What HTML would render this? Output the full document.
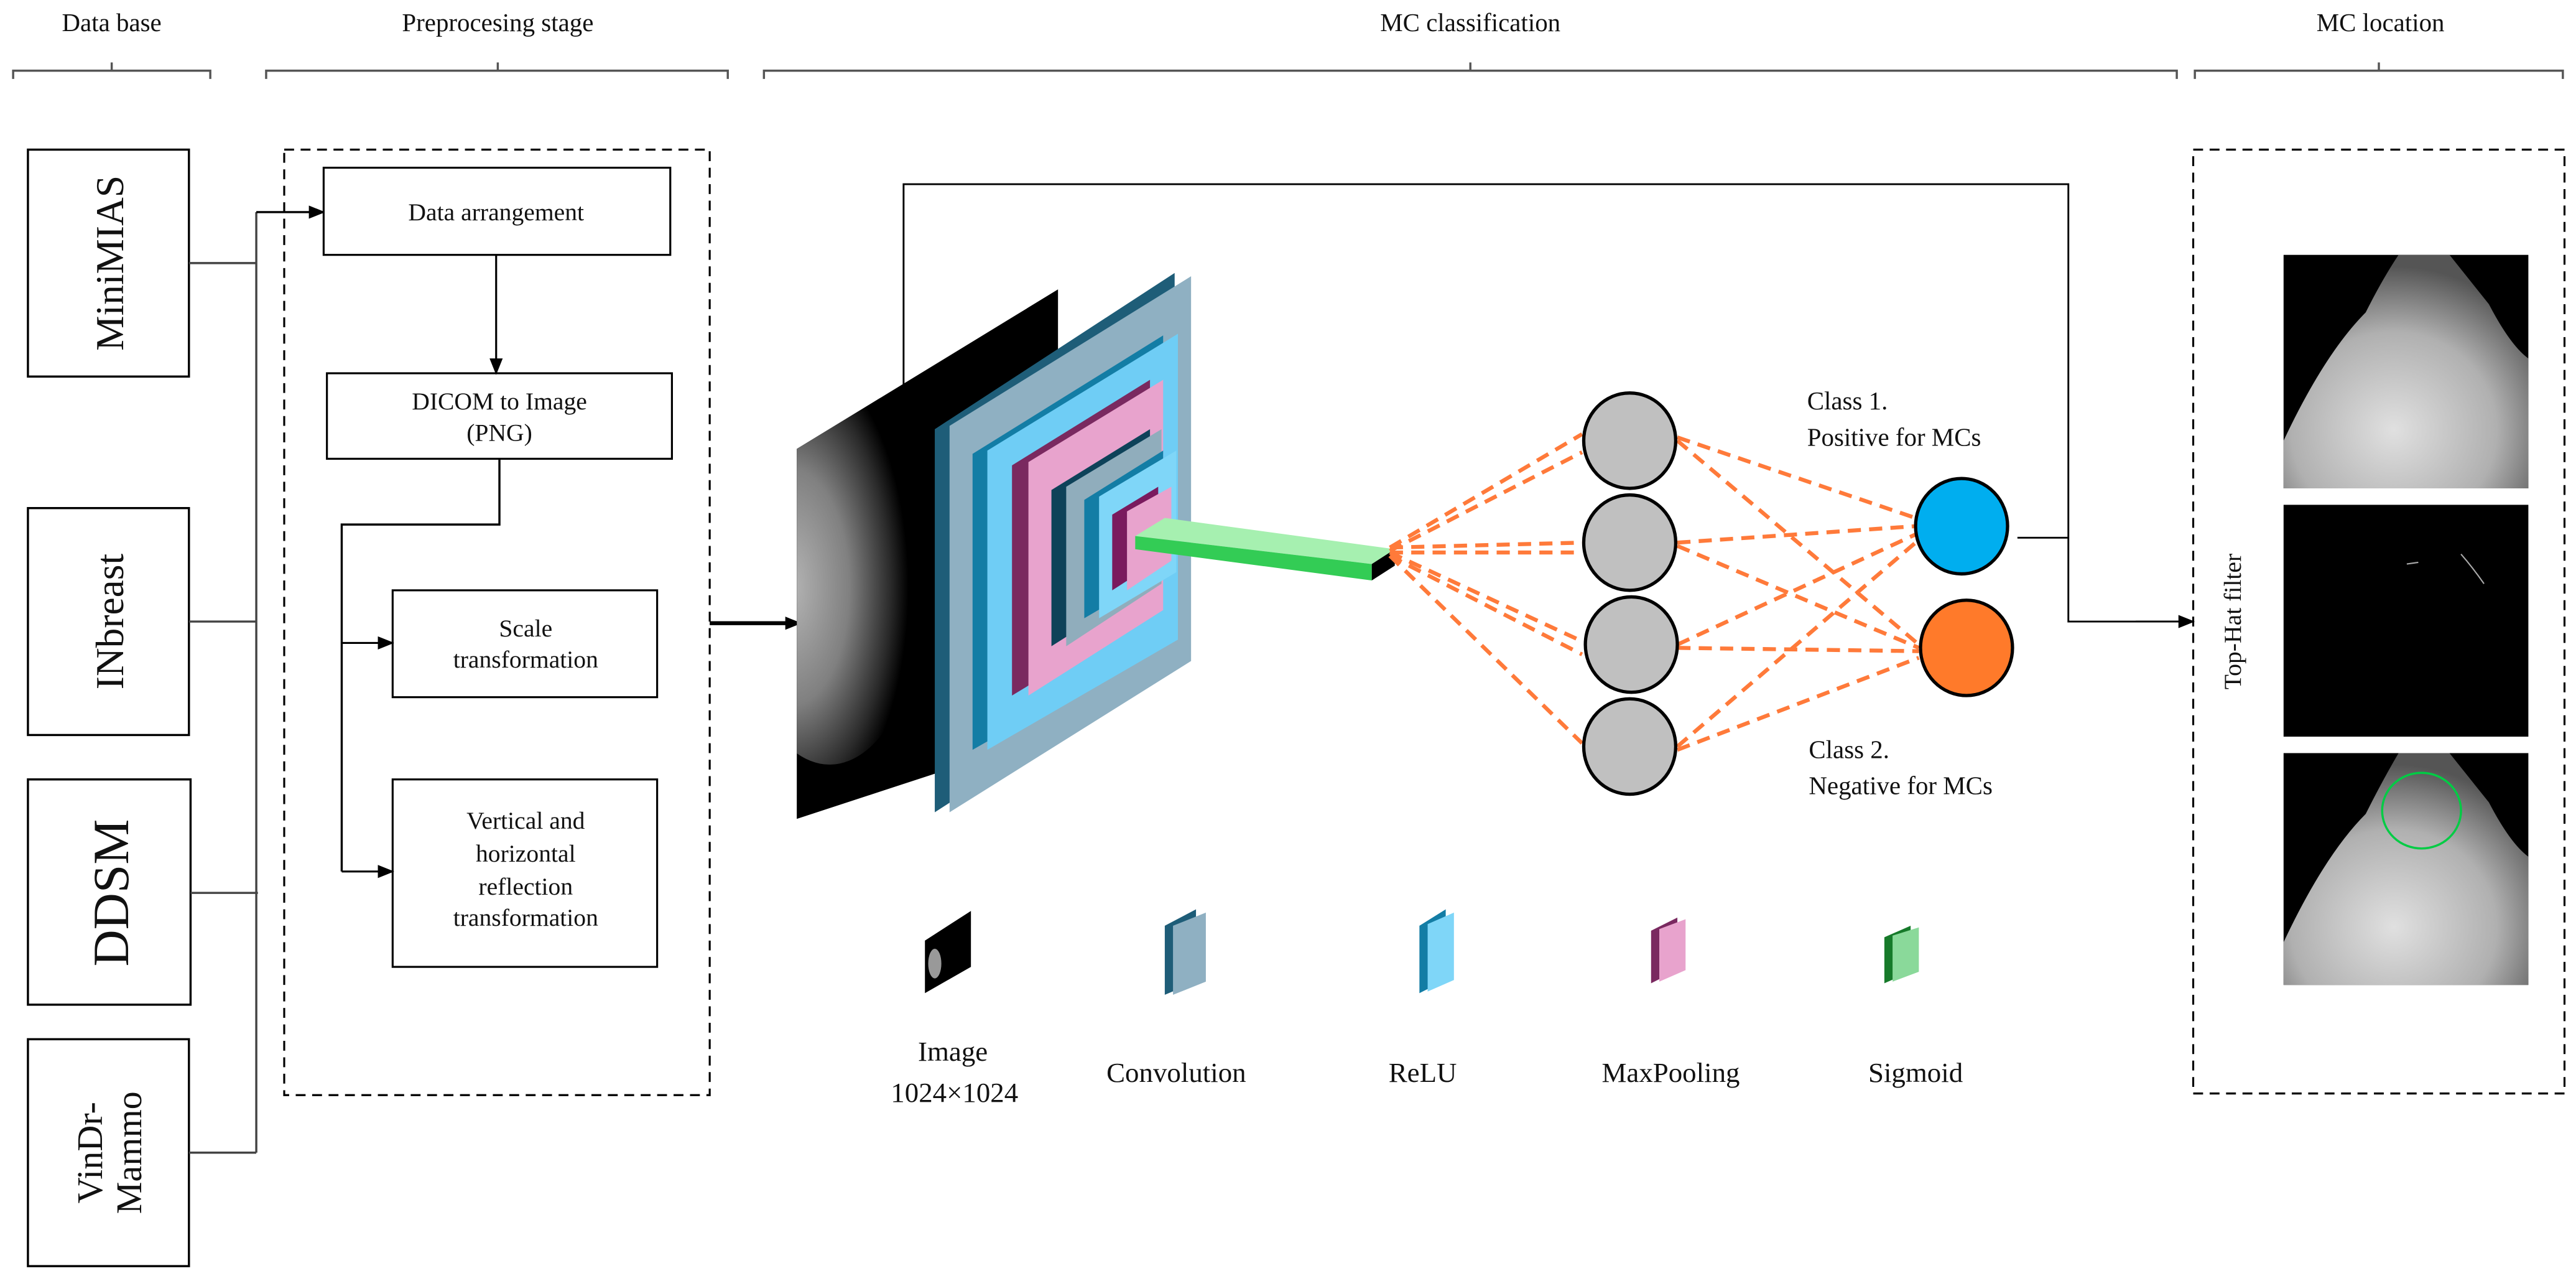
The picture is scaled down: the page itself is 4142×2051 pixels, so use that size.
<!DOCTYPE html>
<html><head><meta charset="utf-8"><style>
html,body{margin:0;padding:0;background:#fff;}
svg{display:block;}
text{font-family:"Liberation Serif",serif;fill:#111;}
</style></head><body>
<svg width="4142" height="2051" viewBox="0 0 1568 776" preserveAspectRatio="none" xmlns="http://www.w3.org/2000/svg">
<defs>
<marker id="ar" markerWidth="10" markerHeight="8" refX="9" refY="4" orient="auto" markerUnits="userSpaceOnUse"><path d="M0,0 L10,4 L0,8 z" fill="#000"/></marker>
<radialGradient id="mam" cx="0.3" cy="0.55" r="0.6"><stop offset="0" stop-color="#b5b5b5"/><stop offset="0.5" stop-color="#808080"/><stop offset="0.85" stop-color="#2a2a2a"/><stop offset="1" stop-color="#000"/></radialGradient>
<radialGradient id="mt" cx="0.45" cy="0.75" r="0.7"><stop offset="0" stop-color="#e0e0e0"/><stop offset="0.6" stop-color="#b0b0b0"/><stop offset="1" stop-color="#555"/></radialGradient>
<clipPath id="cm"><polygon points="485,273 644,176 644,446 485,498"/></clipPath>
</defs>

<g font-size="15.5" text-anchor="middle">
<text x="68" y="19">Data base</text>
<text x="303" y="19">Preprocesing stage</text>
<text x="895" y="19">MC classification</text>
<text x="1449" y="19">MC location</text>
</g>
<g stroke="#555" stroke-width="1.3" fill="none">
<path d="M8,48 V43 H128 V48 M68,43 V38"/>
<path d="M162,48 V43 H443 V48 M303,43 V38"/>
<path d="M465,48 V43 H1325 V48 M895,43 V38"/>
<path d="M1336,48 V43 H1560 V48 M1448,43 V38"/>
</g>

<g fill="#fff" stroke="#000" stroke-width="1.3">
<rect x="17" y="91" width="98" height="138"/>
<rect x="17" y="309" width="98" height="138"/>
<rect x="17" y="474" width="99" height="137"/>
<rect x="17" y="632" width="98" height="138"/>
</g>
<text transform="translate(75,160) rotate(-90)" font-size="24" text-anchor="middle">MiniMIAS</text>
<text transform="translate(75,378) rotate(-90)" font-size="24" text-anchor="middle">INbreast</text>
<text transform="translate(78,543) rotate(-90)" font-size="31" text-anchor="middle">DDSM</text>
<text transform="translate(62,701) rotate(-90)" font-size="22" text-anchor="middle">VinDr-</text>
<text transform="translate(86,701) rotate(-90)" font-size="22" text-anchor="middle">Mammo</text>
<g stroke="#444" stroke-width="1.3" fill="none">
<path d="M115,160 H156 M115,378 H156 M116,543 H157 M115,701 H156 M156,129 V701"/>
</g>
<line x1="156" y1="129" x2="197" y2="129" stroke="#000" stroke-width="1.3" marker-end="url(#ar)"/>

<rect x="173" y="91" width="259" height="575" fill="none" stroke="#000" stroke-width="1.2" stroke-dasharray="6,4"/>
<g fill="#fff" stroke="#000" stroke-width="1.2">
<rect x="197" y="102" width="211" height="53"/>
<rect x="199" y="227" width="210" height="52"/>
<rect x="239" y="359" width="161" height="65"/>
<rect x="239" y="474" width="161" height="114"/>
</g>
<g font-size="15" text-anchor="middle">
<text x="302" y="134">Data arrangement</text>
<text x="304" y="249">DICOM to Image</text>
<text x="304" y="268">(PNG)</text>
<text x="320" y="387">Scale</text>
<text x="320" y="406">transformation</text>
<text x="320" y="504">Vertical and</text>
<text x="320" y="524">horizontal</text>
<text x="320" y="544">reflection</text>
<text x="320" y="563">transformation</text>
</g>
<line x1="302" y1="155" x2="302" y2="227" stroke="#000" stroke-width="1.2" marker-end="url(#ar)"/>
<path d="M304,279 V319 H208 V530" fill="none" stroke="#000" stroke-width="1.3"/>
<line x1="208" y1="391" x2="239" y2="391" stroke="#000" stroke-width="1.2" marker-end="url(#ar)"/>
<line x1="208" y1="530" x2="239" y2="530" stroke="#000" stroke-width="1.2" marker-end="url(#ar)"/>
<line x1="432" y1="379" x2="487" y2="379" stroke="#000" stroke-width="2.4" marker-end="url(#ar)"/>

<path d="M550,300 V112 H1259 V378 H1335" fill="none" stroke="#000" stroke-width="1.1"/>
<line x1="1300" y1="378" x2="1335" y2="378" stroke="#000" stroke-width="1.1" marker-end="url(#ar)"/>
<line x1="1228" y1="327" x2="1259" y2="327" stroke="#000" stroke-width="1.1"/>

<polygon points="485,273 644,176 644,446 485,498" fill="#000"/>
<g clip-path="url(#cm)"><ellipse cx="505" cy="345" rx="60" ry="120" fill="url(#mam)"/></g>

<polygon points="569,261 715,166 715,400 569,494" fill="#1e5d78"/>
<polygon points="578,259 725,168 725,402 578,494" fill="#8fb0c2"/>
<polygon points="592,276 708,204 708,390 592,456" fill="#137da5"/>
<polygon points="601,274 717,203 717,389 601,456" fill="#6fcdf5"/>
<polygon points="616,283 700,231 700,372 616,423" fill="#7a2960"/>
<polygon points="626,281 708,231 708,371 626,423" fill="#e8a3cd"/>
<polygon points="640,298 700,261 700,355 640,393" fill="#0e4259"/>
<polygon points="649,296 707,261 707,355 649,393" fill="#90adbc"/>
<polygon points="660,304 708,274 708,348 660,376" fill="#137da5"/>
<polygon points="669,302 716,274 716,348 669,376" fill="#7fd6f8"/>
<polygon points="677,313 705,296 705,341 677,359" fill="#7a1a5e"/>
<polygon points="686,311 713,296 713,341 686,359" fill="#e8a3cd"/>

<polygon points="691,326 709,315 849,334 835,343" fill="#a6f0b0"/>
<polygon points="691,326 835,343 835,353 691,334" fill="#33cc55"/>
<polygon points="835,343 849,334 849,344 835,353" fill="#000"/>

<g stroke="#ff7a3a" stroke-width="2.4" stroke-dasharray="8,5" fill="none">
<path d="M846,333 L963,264 M846,335 L963,275 M846,333 L963,330 M846,336 L963,336 M846,336 L963,390 M846,338 L963,398 M846,338 L963,452"/>
<path d="M1021,266 L1166,315 M1021,268 L1168,392 M1021,330 L1166,320 M1021,332 L1168,394 M1021,392 L1166,325 M1021,394 L1168,396 M1021,454 L1166,330 M1021,456 L1168,400"/>
</g>
<g stroke="#000" stroke-width="2" fill="#c0c0c0">
<ellipse cx="992" cy="268" rx="28" ry="29"/>
<ellipse cx="992" cy="330" rx="28" ry="29"/>
<ellipse cx="993" cy="392" rx="28" ry="29"/>
<ellipse cx="992" cy="454" rx="28" ry="29"/>
<ellipse cx="1194" cy="320" rx="28" ry="29" fill="#00aeef"/>
<ellipse cx="1197" cy="394" rx="28" ry="29" fill="#ff7a2a"/>
</g>
<g font-size="15.5">
<text x="1100" y="249">Class 1.</text>
<text x="1100" y="271">Positive for MCs</text>
<text x="1101" y="461">Class 2.</text>
<text x="1101" y="483">Negative for MCs</text>
</g>

<polygon points="563,572 591,554 591,588 563,604" fill="#000"/>
<ellipse cx="569" cy="586" rx="4" ry="9" fill="#999"/>
<polygon points="709,563 728,553 728,597 709,605" fill="#1e5d78"/><polygon points="714,563 734,555 734,597 714,605" fill="#8fb0c2"/>
<polygon points="864,563 880,553 880,596 864,604" fill="#137da5"/><polygon points="869,562 885,555 885,596 869,603" fill="#7fd6f8"/>
<polygon points="1005,566 1021,558 1021,590 1005,598" fill="#7a2960"/><polygon points="1010,565 1026,559 1026,590 1010,597" fill="#e8a3cd"/>
<polygon points="1147,570 1163,563 1163,591 1147,598" fill="#167a2a"/><polygon points="1152,569 1168,564 1168,591 1152,597" fill="#8ad99a"/>
<g font-size="17" text-anchor="middle">
<text x="580" y="645">Image</text>
<text x="581" y="670">1024×1024</text>
<text x="716" y="658">Convolution</text>
<text x="866" y="658">ReLU</text>
<text x="1017" y="658">MaxPooling</text>
<text x="1166" y="658">Sigmoid</text>
</g>

<rect x="1335" y="91" width="226" height="574" fill="none" stroke="#000" stroke-width="1.2" stroke-dasharray="6,4"/>
<text transform="translate(1364,378) rotate(-90)" font-size="15" text-anchor="middle">Top-Hat filter</text>
<rect x="1390" y="155" width="149" height="142" fill="#000"/>
<path d="M1390,268 Q1415,215 1440,190 Q1450,170 1460,155 H1491 L1515,185 Q1528,210 1539,218 V297 H1390 Z" fill="url(#mt)"/>
<rect x="1390" y="307" width="149" height="141" fill="#000"/>
<path d="M1498,337 Q1505,345 1512,355" stroke="#aaa" stroke-width="0.8" fill="none"/>
<path d="M1465,343 L1472,342" stroke="#aaa" stroke-width="0.8"/>
<rect x="1390" y="458" width="149" height="141" fill="#000"/>
<path d="M1390,573 Q1415,520 1440,495 Q1450,475 1460,458 H1491 L1515,488 Q1528,513 1539,521 V599 H1390 Z" fill="url(#mt)"/>
<ellipse cx="1474" cy="493" rx="24" ry="23" fill="none" stroke="#00cc44" stroke-width="1.3"/>
</svg>
</body></html>
